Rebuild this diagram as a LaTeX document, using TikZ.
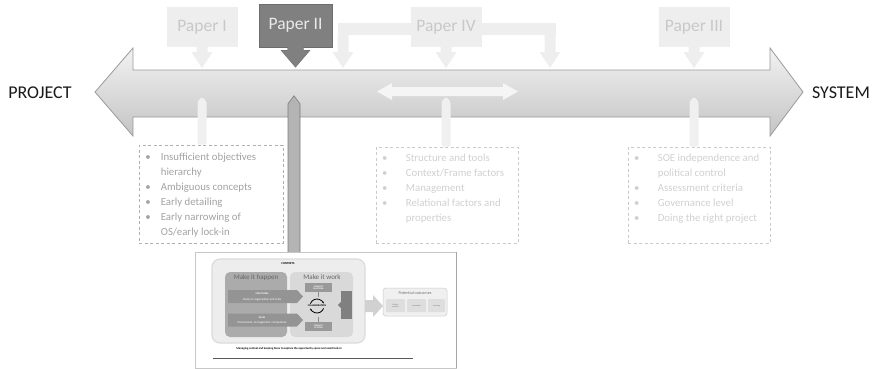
\documentclass[tikz,border=0pt]{standalone}
\usepackage{fontspec}
\setmainfont{Carlito}
\usetikzlibrary{positioning,arrows.meta}
\definecolor{arrowtop}{HTML}{F2F2F2}
\definecolor{arrowbot}{HTML}{C4C4C4}
\definecolor{arrowline}{HTML}{9A9A9A}
\definecolor{paperfill}{HTML}{EEEEEE}
\definecolor{papertext}{HTML}{C8C8C8}
\definecolor{activefill}{HTML}{808080}
\definecolor{activeline}{HTML}{6C6C6C}
\definecolor{activetext}{HTML}{EAEAEA}
\definecolor{stemfill}{HTML}{F0F0F0}
\definecolor{barfill}{HTML}{B4B4B4}
\definecolor{barline}{HTML}{7C7C7C}
\definecolor{darktext}{HTML}{A2A2A2}
\definecolor{faintext}{HTML}{D0D0D0}
\definecolor{dashdark}{HTML}{B0B0B0}
\definecolor{dashfaint}{HTML}{CACACA}
\tikzstyle{endlabel} = [font=\fontsize{18}{20}\selectfont, text=black!90, inner sep=0pt]
\tikzstyle{paper} = [fill=paperfill, text=papertext, font=\fontsize{17.5}{20}\selectfont, minimum width=71pt, minimum height=40pt, inner sep=0pt]
\tikzstyle{activepaper} = [paper, fill=activefill, draw=activeline, text=activetext, minimum width=73pt, minimum height=43pt]
\tikzstyle{dashbox} = [draw, dash pattern=on 3pt off 2.5pt, line width=0.7pt, minimum width=142pt, minimum height=96pt, inner sep=0pt]
\tikzstyle{items} = [anchor=north west, inner sep=0pt, font=\fontsize{10.8}{15}\selectfont]
\tikzstyle{shotbox} = [draw=black!22, fill=white, minimum width=261pt, minimum height=116pt, inner sep=0pt]
\tikzstyle{panel} = [rounded corners=5pt, inner sep=0pt]
\tikzstyle{tinybox} = [fill=black!40, text=white, font=\fontsize{2.2}{2.4}\selectfont\bfseries, align=center, inner sep=0pt]
\tikzstyle{tinytext} = [font=\fontsize{3}{3.4}\selectfont, inner sep=0pt, align=center]
\tikzset{
  pics/dnptr/.style={code={\fill (-5.5,0) -- (-5.5,#1) -- (-10.5,#1) -- (0,#1+16) -- (10.5,#1) -- (5.5,#1) -- (5.5,0) -- cycle;}},
  pics/upstem/.style={code={\fill[stemfill, rounded corners=1.5pt] (-4.5,0) -- (-4.5,-#1+5) -- (0,-#1) -- (4.5,-#1+5) -- (4.5,0) -- cycle;}}
}
\begin{document}
\begin{tikzpicture}[x=1pt,y=-1pt]
\useasboundingbox (0,0) rectangle (875,368);

% main double arrow
\draw[draw=arrowline, line width=0.8pt, top color=arrowtop, bottom color=arrowbot]
  (95,92) -- (133,48) -- (133,70) -- (770,70) -- (770,48) -- (803,92)
  -- (770,136) -- (770,117) -- (133,117) -- (133,136) -- cycle;
\node[endlabel] (project) at (40,93) {PROJECT};
\node[endlabel] (system) at (841,93) {SYSTEM};

% papers
\node[paper] (p1) at (202,27) {Paper I};
\node[activepaper] (p2) at (295.5,25.5) {Paper II};
\coordinate (p4l) at (343,35);
\coordinate (p4r) at (550,35);
\fill[paperfill] ([xshift=-5.5pt]p4l) rectangle ([xshift=5.5pt,yshift=12pt]p4r);
\node[paper] (p4) at (446,27) {Paper IV};
\node[paper] (p3) at (694,27) {Paper III};

\path (p1.south) pic[fill=paperfill]{dnptr=5};
\path (p4.south) pic[fill=paperfill]{dnptr=5};
\path (p3.south) pic[fill=paperfill]{dnptr=5};
\path (p4l) pic[fill=paperfill]{dnptr=17};
\path (p4r) pic[fill=paperfill]{dnptr=17};
\filldraw[fill=activefill, draw=activeline, line width=0.4pt] (p2.south) ++(-8,0) -- ++(0,3)
  -- ++(-6.5,0) -- ++(14.5,17) -- ++(14.5,-17) -- ++(-6.5,0) -- ++(0,-3);

% inner double arrow
\fill[white!96!black] (377,91.5) -- (392,83) -- (392,87) -- (503,87) -- (503,83) -- (518,91.5)
  -- (503,100) -- (503,96) -- (392,96) -- (392,100) -- cycle;

% findings
\node[dashbox, draw=dashdark, minimum width=144pt, minimum height=98pt] (b1) at (211,194) {};
\node[dashbox, draw=dashfaint] (b4) at (447,195) {};
\node[dashbox, draw=dashfaint] (b3) at (699,195) {};
\path (p1 |- b1.north) pic{upstem=48};
\path (p4 |- b4.north) pic{upstem=50};
\path (p3 |- b3.north) pic{upstem=50};

\node[items, text=darktext] (t1) at ([xshift=6.5pt,yshift=-5.5pt]b1.north west) {%
  \begin{tabular}{@{}p{15.5pt}@{}l@{}}
  \textbullet & Insufficient objectives\\
   & hierarchy\\
  \textbullet & Ambiguous concepts\\
  \textbullet & Early detailing\\
  \textbullet & Early narrowing of\\
   & OS/early lock-in
  \end{tabular}};
\node[items, text=faintext] (t4) at ([xshift=6.3pt,yshift=-4.5pt]b4.north west) {%
  \begin{tabular}{@{}p{23.7pt}@{}l@{}}
  \textbullet & Structure and tools\\
  \textbullet & Context/Frame factors\\
  \textbullet & Management\\
  \textbullet & Relational factors and\\
   & properties
  \end{tabular}};
\node[items, text=faintext] (t3) at ([xshift=6.3pt,yshift=-4.5pt]b3.north west) {%
  \begin{tabular}{@{}p{23.7pt}@{}l@{}}
  \textbullet & SOE independence and\\
   & political control\\
  \textbullet & Assessment criteria\\
  \textbullet & Governance level\\
  \textbullet & Doing the right project
  \end{tabular}};

% screenshot of paper II
\node[shotbox] (shot) at (325.5,310) {};
\draw[black!35, line width=1.2pt] ([xshift=0.6pt]shot.north east) -- ([xshift=0.6pt]shot.south east);
\begin{scope}[shift={(p2 |- shot.north)}]
\filldraw[fill=barfill, draw=barline, line width=0.6pt] (-7.5,0) -- (-7.5,-148) -- (-1.5,-156) -- (4.5,-148) -- (4.5,0);
\end{scope}

\node[panel, rounded corners=8pt, fill=black!7, draw=black!14, line width=1.2pt, minimum width=153pt, minimum height=84pt] (ctx) at (288.5,301) {};
\node[tinytext, font=\fontsize{3}{3.4}\selectfont\bfseries] (ctxlabel) at (288,263.5) {CONTEXTS};
\node[panel, fill=black!33, minimum width=62pt, minimum height=65pt] (happen) at (256,304.5) {};
\node[panel, fill=black!15, minimum width=63pt, minimum height=65pt] (work) at (321.5,304.5) {};
\node[tinytext, font=\fontsize{7}{8}\selectfont, text=black!60] (happenlabel) at (256,278) {Make it happen};
\node[tinytext, font=\fontsize{7}{8}\selectfont, text=black!60] (worklabel) at (322,277.5) {Make it work};

\fill[black!42] (228,290) -- (297,290) -- (303,296.5) -- (297,303) -- (228,303) -- cycle;
\fill[black!42] (228,313.5) -- (297,313.5) -- (303,320) -- (297,326.5) -- (228,326.5) -- cycle;
\node[tinytext, text=white, font=\fontsize{2.4}{2.6}\selectfont\bfseries] (struct) at (262,294) {STRUCTURES};
\node[tinytext, text=white] (structsub) at (262,299.5) {Clarity in organisation and roles};
\node[tinytext, text=white, font=\fontsize{2.4}{2.6}\selectfont\bfseries] (roles) at (262,317.5) {ROLES};
\node[tinytext, text=white] (rolessub) at (262,322.5) {Involvement, management, competence};

\node[tinybox, minimum width=27pt, minimum height=9pt] (rel) at (318.5,287.5) {CATALYTIC\\RELATIONS};
\node[tinybox, minimum width=27pt, minimum height=9pt] (act) at (318.5,326.5) {CATALYTIC\\ACTIONS};
\node[tinybox, fill=black!50, minimum width=11pt, minimum height=28pt] (side) at (346.5,305) {};
\fill[black!50] (side.west) ++(0,-3) -- ++(-3,3) -- ++(3,3) -- cycle;
\node[tinytext, font=\fontsize{2.6}{3}\selectfont\bfseries] (collab) at (317,306) {COLLABORATION};
\draw[line width=0.8pt, -{Stealth[length=2pt]}] (collab) ++(200:7) arc (200:340:7);
\draw[line width=0.8pt, -{Stealth[length=2pt]}] (collab) ++(20:7) arc (20:160:7);
\draw[black!45, line width=1pt, -{Stealth[length=1.5pt]}] (rel.south) -- ++(0,5);
\draw[black!45, line width=1pt, -{Stealth[length=1.5pt]}] (act.north) -- ++(0,-5);

\fill[black!18] (365,300) -- (373,300) -- (373,295) -- (383,306) -- (373,317) -- (373,312) -- (365,312) -- cycle;
\node[panel, rounded corners=3pt, fill=black!6, draw=black!20, line width=0.5pt, minimum width=64pt, minimum height=28pt] (outc) at (415,302) {};
\node[tinytext, font=\fontsize{4.2}{5}\selectfont, text=black!55] (outclabel) at (415,293) {Potential outcomes};
\node[panel, rounded corners=1pt, fill=black!13, minimum width=19pt, minimum height=13pt, tinytext, font=\fontsize{2}{2.3}\selectfont, text=black!55] (o1) at (395.5,305.5) {Project\\success};
\node[panel, rounded corners=1pt, fill=black!13, minimum width=19pt, minimum height=13pt, tinytext, font=\fontsize{2}{2.3}\selectfont, text=black!55] (o2) at (416.5,305.5) {Innovation};
\node[panel, rounded corners=1pt, fill=black!13, minimum width=17pt, minimum height=13pt, tinytext, font=\fontsize{2}{2.3}\selectfont, text=black!55] (o3) at (436.5,305.5) {Learning};

\node[tinytext, font=\fontsize{2.9}{3.2}\selectfont\bfseries] (focus) at (289,349) {Managing context and keeping focus to explore the opportunity space and avoid lock-in};
\coordinate (lineA) at (213,358);
\coordinate (lineB) at (413,358);
\draw[black!65, line width=0.8pt] (lineA) -- (lineB);
\end{tikzpicture}
\end{document}
